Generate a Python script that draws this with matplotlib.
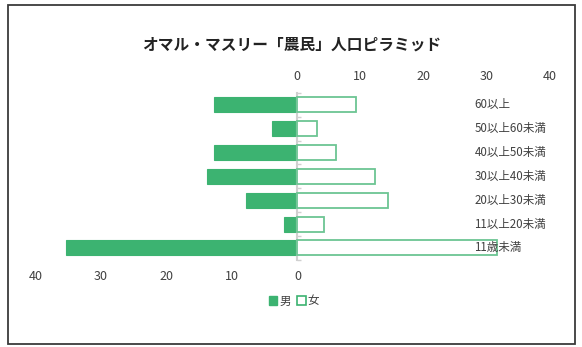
import numpy as np
import matplotlib
matplotlib.use("Agg")
import matplotlib.pyplot as plt
from matplotlib.patches import Patch, Rectangle

plt.rcParams['font.family'] = ['Noto Sans CJK JP', 'DejaVu Sans']

# ── Data ──────────────────────────────────────────────────────────────────────
TITLE = "オマル・マスリー「農民」人口ピラミッド"
categories = ["60以上", "50以上60未満", "40以上50未満", "30以上40未満",
              "20以上30未満", "11以上20未満", "11歳未満"]
male = [12.8, 3.9, 12.8, 13.8, 7.8, 2.0, 35.4]
female = [9.3, 3.2, 6.2, 12.4, 14.4, 4.2, 31.7]
male_ticks = [40, 30, 20, 10, 0]
female_ticks = [0, 10, 20, 30, 40]

GREEN = "#3cb371"
EDGE = "#6cc593"
AXIS_GRAY = "#d0d0d0"
TEXT = "#404040"

# ── Figure ────────────────────────────────────────────────────────────────────
W, H = 582, 347
fig = plt.figure(figsize=(W / 100, H / 100), dpi=100)

# outer chart frame
fig.add_artist(Rectangle((8.3 / W, 1 - 343.7 / H), (575.3 - 8.3) / W, (343.7 - 4.7) / H,
                         transform=fig.transFigure, fill=False,
                         edgecolor="#3a3a3a", linewidth=1.3))

ax = fig.add_axes([35.7 / W, 1 - 259.8 / H, (549.3 - 35.7) / W, (259.8 - 92.9) / H])
ax2 = ax.twiny()

y = np.arange(len(categories))[::-1]

# men on bottom axis (reversed), women on top axis
ax.barh(y, male, height=0.63, color=GREEN, edgecolor=GREEN, linewidth=0.8, zorder=2)
ax2.barh(y, female, height=0.63, color="white", edgecolor=EDGE, linewidth=1.3, zorder=2)

ax.set_xlim(40, -38.5)
ax2.set_xlim(-41.46, 40)
ax.set_ylim(-0.5, len(categories) - 0.5)

for a in (ax, ax2):
    for s in a.spines.values():
        s.set_visible(False)

# centre axis with small tick marks between categories
ax.spines['left'].set_visible(True)
ax.spines['left'].set_position(('data', 0))
ax.spines['left'].set_color(AXIS_GRAY)
ax.spines['left'].set_linewidth(1.5)
ax.set_yticks(np.arange(len(categories) + 1) - 0.5)
ax.tick_params(axis='y', direction='in', length=3, width=1, color=AXIS_GRAY,
               labelleft=False)
ax2.tick_params(axis='y', left=False, labelleft=False)

ax.set_xticks(male_ticks)
ax.tick_params(axis='x', length=0, pad=7, labelsize=9, labelcolor=TEXT)
ax2.set_xticks(female_ticks)
ax2.tick_params(axis='x', length=0, pad=7, labelsize=9, labelcolor=TEXT)

# category labels on the right
for yi, cat in zip(y, categories):
    ax2.text(0.854, yi, cat, transform=ax2.get_yaxis_transform(),
             ha="left", va="center", fontsize=8.3, color=TEXT, zorder=5)

fig.text(291.7 / W, 1 - 45 / H, TITLE, ha="center", va="center",
         fontsize=11.3, fontweight="bold", color="#222222")

handles = [Patch(facecolor=GREEN, edgecolor=GREEN, label="男"),
           Patch(facecolor="white", edgecolor=GREEN, linewidth=1.2, label="女")]
fig.legend(handles=handles, loc="center", bbox_to_anchor=(294 / W, 1 - 301 / H),
           ncol=2, frameon=False, fontsize=8.3, handlelength=0.7, handleheight=0.7,
           handletextpad=0.2, columnspacing=0.6, labelcolor=TEXT)

fig.savefig("out.png", dpi=100)
